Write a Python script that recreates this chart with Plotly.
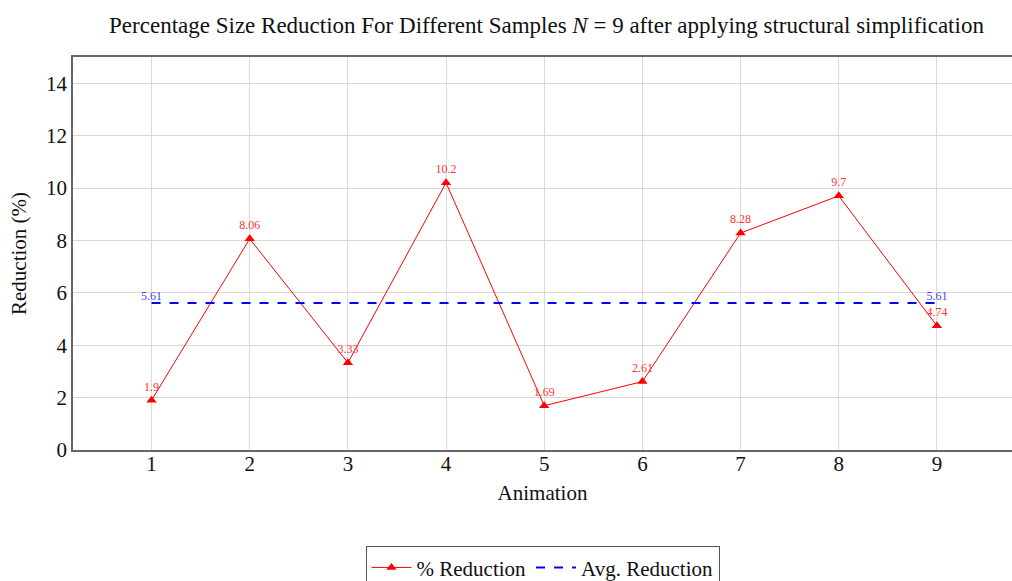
import plotly.graph_objects as go

animations = [1, 2, 3, 4, 5, 6, 7, 8, 9]
reduction = [1.9, 8.06, 3.33, 10.2, 1.69, 2.61, 8.28, 9.7, 4.74]
avg_x = [1, 9]
avg_y = [5.61, 5.61]
y_ticks = [0, 2, 4, 6, 8, 10, 12, 14]

SERIF = "Liberation Serif, DejaVu Serif, serif"

fig = go.Figure()
fig.add_trace(go.Scatter(
    x=animations, y=reduction, mode="lines+markers+text",
    name="% Reduction",
    line=dict(color="#ff0000", width=1),
    marker=dict(symbol="triangle-up", size=9, color="#ff0000"),
    text=[f"{v:g}" for v in reduction], textposition="top center",
    textfont=dict(color="#ff3333", size=12, family=SERIF),
))
fig.add_trace(go.Scatter(
    x=avg_x, y=avg_y, mode="lines+text",
    name="Avg. Reduction",
    line=dict(color="#0000ff", width=2, dash="dash"),
    text=[f"{v:g}" for v in avg_y], textposition="top center",
    textfont=dict(color="#4444ff", size=12, family=SERIF),
))

fig.update_layout(
    width=1012, height=581,
    margin=dict(l=73, r=0, t=57, b=131, autoexpand=False),
    paper_bgcolor="white", plot_bgcolor="white",
    font=dict(family=SERIF, color="#111111", size=21),
    title=dict(
        text="Percentage Size Reduction For Different Samples <i>N</i> = 9 after applying structural simplification",
        x=0.54, xanchor="center", y=0.957, yanchor="middle",
        font=dict(size=23, family=SERIF, color="#111111"),
    ),
    xaxis=dict(
        range=[0.2, 9.765], tickvals=animations, ticktext=[str(a) for a in animations],
        showgrid=True, gridcolor="#d9d9d9", gridwidth=1,
        showline=True, linecolor="#666666", linewidth=1.5, mirror=True,
        ticks="", zeroline=False, ticklabelstandoff=-6,
        title=dict(text="Animation", standoff=10, font=dict(size=21)),
        tickfont=dict(size=21),
    ),
    yaxis=dict(
        range=[0, 15], tickvals=y_ticks,
        showgrid=True, gridcolor="#d9d9d9", gridwidth=1,
        showline=True, linecolor="#666666", linewidth=1.5, mirror=False,
        ticks="", zeroline=False,
        title=dict(text="Reduction (%)", standoff=14, font=dict(size=21)),
        tickfont=dict(size=21),
    ),
    legend=dict(
        orientation="h", x=0.5, xanchor="center", y=-0.245, yanchor="top",
        bordercolor="#555555", borderwidth=1, bgcolor="white",
        font=dict(size=21, family=SERIF), itemwidth=40,
        tracegroupgap=0,
    ),
)

fig.write_html("out.html")
